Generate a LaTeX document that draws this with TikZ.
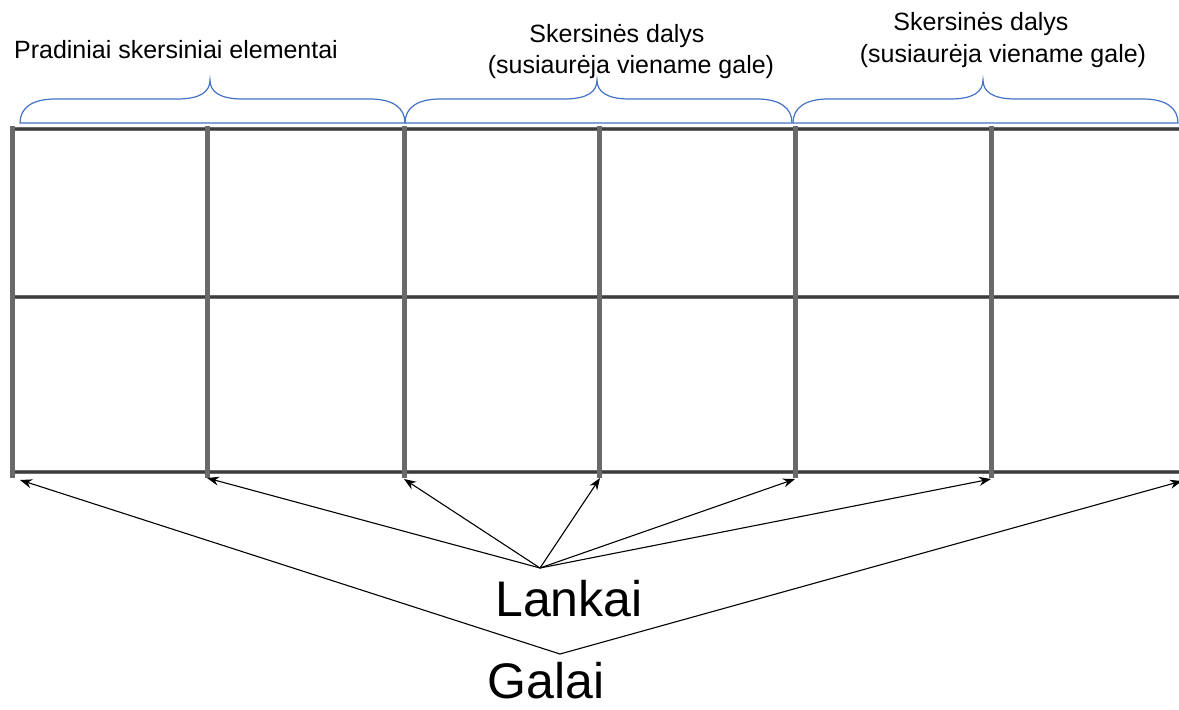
\documentclass[tikz,border=0pt]{standalone}
\usepackage{fontspec}
\setmainfont{Liberation Sans}
\usetikzlibrary{arrows.meta}
\definecolor{bracecol}{RGB}{68,114,196}
\definecolor{barcol}{RGB}{105,105,105}
\definecolor{barcore}{RGB}{60,60,60}
\newcommand\mybrace[3]{%
  \draw[bracebox] (#1,123) .. controls (#1,108) and ({#1+12},99) .. ({#1+35},99)
    -- ({#2-33},99) .. controls ({#2-10},99) and (#2,92) .. (#2,80)
    .. controls (#2,92) and ({#2+10},99) .. ({#2+33},99)
    -- ({#3-35},99) .. controls ({#3-12},99) and (#3,108) .. (#3,123) -- cycle;}
\begin{document}
\begin{tikzpicture}[x=1pt,y=-1pt,
  hbar/.style={line width=4.6pt,draw=barcol},
  hcore/.style={line width=1.4pt,draw=barcore},
  vbar/.style={line width=5pt,draw=barcol},
  bracebox/.style={draw=bracecol,line width=1.2pt},
  lbl/.style={font=\fontsize{25}{30}\selectfont,anchor=base,inner sep=0pt},
  big/.style={font=\fontsize{50}{60}\selectfont,anchor=base,inner sep=0pt},
  arr/.style={line width=1.1pt,-{Stealth[length=12pt,width=9pt]}}]
\useasboundingbox (0,0) rectangle (1179,710);
% grid
\foreach \y in {129,297,472}{
  \draw[hbar] (10,\y) -- (1179,\y);
  \draw[hcore] (10,\y) -- (1179,\y);}
\foreach \x in {12,207,404,599,795,991}{
  \draw[vbar] (\x,126) -- (\x,478);}
% braces
\mybrace{20}{210}{405}
\mybrace{405}{597}{792}
\mybrace{793}{983}{1178}
% labels
\node[lbl] (t1) at (176,58) {Pradiniai skersiniai elementai};
\node[lbl] (t2a) at (617,42) {Skersinės dalys};
\node[lbl] (t2b) at (631,73) {(susiaurėja viename gale)};
\node[lbl] (t3a) at (981,30) {Skersinės dalys};
\node[lbl] (t3b) at (1003,62) {(susiaurėja viename gale)};
\node[big] (lankai) at (569,616) {Lankai};
\node[big] (galai) at (546,698) {Galai};
% convergence points and targets
\coordinate (L) at (540,568);
\coordinate (G) at (560,654);
\coordinate (a1) at (20,480);
\coordinate (a2) at (207,478);
\coordinate (a3) at (404,479);
\coordinate (a4) at (600,478);
\coordinate (a5) at (795,479);
\coordinate (a6) at (991,479);
\coordinate (a7) at (1182,481);
\foreach \t in {a2,a3,a4,a5,a6}{\draw[arr] (L) -- (\t);}
\draw[arr] (G) -- (a1);
\draw[arr] (G) -- (a7);
\end{tikzpicture}
\end{document}
